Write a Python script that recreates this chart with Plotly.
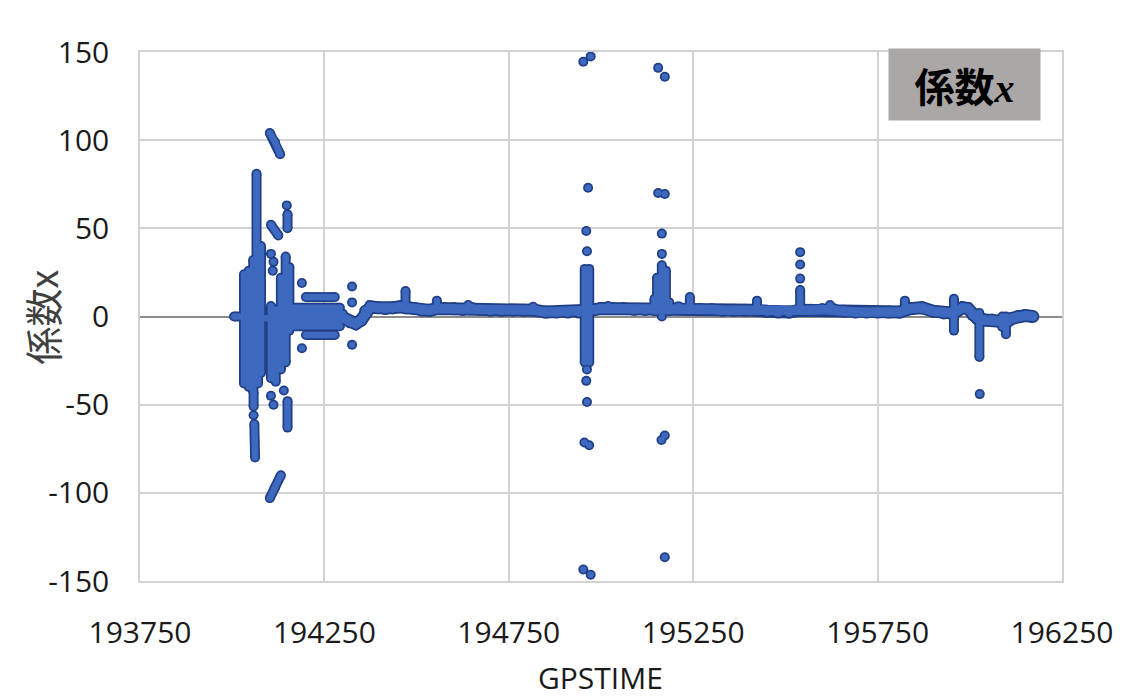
import plotly.graph_objects as go

# ---------------- data (GPSTIME, 係数x) ----------------
# continuous baseline of the series
base_x = [194292, 194305, 194320, 194335, 194350, 194362, 194375, 194395, 194415, 194435,
          194455, 194475, 194495, 194515, 194535, 194555, 194575, 194600, 194625, 194650,
          194675, 194700, 194730, 194760, 194790, 194820, 194850, 194880, 194910, 194940,
          194970, 195000, 195030, 195060, 195090, 195120, 195150, 195180, 195210, 195240,
          195270, 195300, 195330, 195360, 195390, 195420, 195450, 195480, 195510, 195540,
          195570, 195600, 195630, 195660, 195690, 195720, 195750, 195780, 195810, 195840,
          195870, 195900, 195930, 195950, 195965, 195980, 195995, 196008, 196020, 196040,
          196060, 196080, 196100, 196115, 196130, 196150, 196171]
base_y = [0, -1, -3, -4, -2, 3, 5.5, 5, 4.5, 5,
          5.5, 5, 4.5, 3.5, 3.5, 4.5, 4.5, 4.5, 4, 4.5,
          4, 3.5, 3.5, 3.5, 3.5, 3.5, 2.5, 2.5, 2.5, 2.5,
          3.5, 4.5, 4.5, 4.5, 4, 4, 4, 4.5, 5, 5,
          4, 4, 3.5, 3.5, 3.5, 3.5, 3, 2.5, 2.5, 3.5,
          3.5, 4, 4, 3, 2.5, 2.5, 2.5, 2.5, 2.5, 4.5,
          5, 3, 2, 2, 3, 5, 4.5, 1, -1, -2,
          -2, -2.5, -3, -1, 0, 0.5, 0]

# first burst (around 194000-194090); None separates runs of samples
left_x = [194005, 194040, None, 194032, 194032, None, 194045, 194045, None,
          194057, 194057, None, 194066, 194066, None, 194070, 194070, None,
          194078, 194078, None, 194080, 194100, None, 194058, 194058, None,
          194058, None, 194060, 194062]
left_y = [0, 0, None, 24, -38, None, 26, -40, None,
          32, -42, None, 81, 26, None, 30, -38, None,
          40, -32, None, -1, -1, None, -43, -51, None,
          -56, None, -61, -80]

# second burst (around 194100-194160)
mid_x = [194105, 194105, None, 194118, 194118, None, 194132, 194132, None,
         194145, 194145, None, 194155, 194155, None, 194102, 194116, 194130, None,
         194105, 194125, None, 194148, None, 194150, 194150, None, 194105, None,
         194112, None, 194110, None, 194105, None, 194112, None, 194140, None,
         194150, 194150, None, 194102, 194116, 194132]
mid_y = [6, -35, None, 4, -37, None, 22, -30, None,
         34, -26, None, 28, -8, None, 104, 99, 92, None,
         52, 46, None, 63, None, 58, 50, None, 35.5, None,
         31, None, 26, None, -45, None, -50, None, -42, None,
         -48, -63, None, -103, -97, -90]

# settling block (194160-194330)
block_x = [194160, 194292, None, 194160, 194300, None, 194160, 194300, None,
           194160, 194292, None, 194200, 194278, None, 194200, 194278, None,
           194189, None, 194189, None, 194325, None, 194325, None, 194325]
block_y = [5, 5, None, 1.5, 1.5, None, -2, -2, None,
           -5.5, -5.5, None, 11, 11, None, -10.5, -10.5, None,
           19, None, -18, None, 17, None, 8, None, -16]

# spike near 194962
spike1_x = [194956, 194956, None, 194968, 194968, None, 194962, None, 194960, None,
            194965, None, 194952, None, 194972, None, 194962, None, 194960, None,
            194962, None, 194955, None, 194968, None, 194952, None, 194972]
spike1_y = [27, -26, None, 27, -26, None, 37, None, 48.5, None,
            73, None, 144.5, None, 147.5, None, -30, None, -36.5, None,
            -48.5, None, -71.5, None, -73, None, -143.5, None, -146.5]

# spike near 195165
spike2_x = [195152, 195152, None, 195165, 195165, None, 195176, 195176, None,
            195145, 195145, None, 195185, 195185, None, 195165, None, 195165, None,
            195165, None, 195155, None, 195173, None, 195155, None, 195173, None,
            195164, None, 195173, None, 195173]
spike2_y = [3, 22, None, 8, 29, None, 3, 26, None,
            3, 10, None, 3, 8, None, 0, None, 35.5, None,
            47, None, 70, None, 69.5, None, 141, None, 136, None,
            -70, None, -67.5, None, -136.5]

# small excursions along the rest of the record
bump_x = [194470, 194470, None, 194555, 194555, None, 194640, 194640, None,
          194816, 194816, None, 195019, 195019, None, 195060, 195060, None,
          195241, 195241, None, 195423, 195423, None, 195540, 195540, None,
          195540, None, 195540, None, 195540, None, 195621, 195621, None,
          195824, 195824, None, 195957, 195957, None, 196026, 196026, None,
          196027, None, 196088, 196088, None, 196098, 196098]
bump_y = [4, 14.5, None, 4, 9, None, 4, 6.5, None,
          3, 5.5, None, 4, 6, None, 4, 5, None,
          5, 11, None, 3, 9, None, 3, 15, None,
          21.5, None, 29.5, None, 36.5, None, 4, 6.5, None,
          3, 9, None, 10, -8, None, 2, -23, None,
          -44, None, 0, -6, None, 0, -10]

x_ticks = [193750, 194250, 194750, 195250, 195750, 196250]
x_labels = ["193750", "194250", "194750", "195250", "195750", "196250"]
y_ticks = [-150, -100, -50, 0, 50, 100, 150]
y_labels = ["-150", "-100", "-50", "0", "50", "100", "150"]

# ---------------- figure ----------------
burst_x = left_x + [None] + mid_x + [None] + block_x + [None] + spike1_x + [None] + spike2_x + [None] + bump_x
burst_y = left_y + [None] + mid_y + [None] + block_y + [None] + spike1_y + [None] + spike2_y + [None] + bump_y

EDGE = "#213f87"
FILL = "#3d69bf"

fig = go.Figure()
# dark outlines first
fig.add_trace(go.Scatter(x=base_x, y=base_y, mode="lines+markers",
                         line=dict(color=EDGE, width=13), marker=dict(color=EDGE, size=13),
                         hoverinfo="skip"))
fig.add_trace(go.Scatter(x=burst_x, y=burst_y, mode="lines+markers",
                         line=dict(color=EDGE, width=10), marker=dict(color=EDGE, size=10),
                         hoverinfo="skip"))
# lighter fill on top
fig.add_trace(go.Scatter(x=base_x, y=base_y, mode="lines+markers",
                         line=dict(color=FILL, width=9.5), marker=dict(color=FILL, size=9.5),
                         hoverinfo="skip"))
fig.add_trace(go.Scatter(x=burst_x, y=burst_y, mode="lines+markers",
                         line=dict(color=FILL, width=6.5), marker=dict(color=FILL, size=6.5),
                         hoverinfo="skip"))

GRID = "#d3d3d3"
TICKFONT = dict(family="Open Sans", size=30, color="#1a1a1a")

# the page body adds an 8px margin, so the figure is sized to fill the rest
fig.update_layout(
    width=1119, height=692,
    margin=dict(l=132, r=65, t=44, b=119),
    plot_bgcolor="white", paper_bgcolor="white",
    showlegend=False,
    xaxis=dict(range=[193750, 196250], tickvals=x_ticks, ticktext=x_labels,
               showgrid=True, gridcolor=GRID, gridwidth=1.5, zeroline=False,
               showline=True, linecolor=GRID, linewidth=1.5, mirror=True,
               ticks="outside", ticklen=24, tickcolor="rgba(0,0,0,0)",
               tickfont=TICKFONT),
    yaxis=dict(range=[-150, 150], tickvals=y_ticks, ticktext=y_labels,
               showgrid=True, gridcolor=GRID, gridwidth=1.5,
               zeroline=True, zerolinecolor="#8c8c8c", zerolinewidth=1.5,
               showline=True, linecolor=GRID, linewidth=1.5, mirror=True,
               ticks="outside", ticklen=23, tickcolor="rgba(0,0,0,0)",
               tickfont=TICKFONT),
    annotations=[
        dict(text="係数x", xref="paper", yref="paper", x=-0.1063, y=0.5,
             textangle=-90, showarrow=False, xanchor="center", yanchor="middle",
             font=dict(family="Noto Sans CJK JP", size=38, color="#404040")),
        dict(text="GPSTIME", xref="paper", yref="paper", x=0.499, y=-0.183,
             showarrow=False, xanchor="center", yanchor="middle",
             font=dict(family="Open Sans", size=30, color="#1a1a1a")),
        dict(text="<b>係数</b><b><i><span style=\"font-family:'Liberation Serif'\">x</span></i></b>",
             xref="paper", yref="paper", x=0.8943, y=0.9386,
             showarrow=False, xanchor="center", yanchor="middle",
             width=151, height=71, borderpad=0, bgcolor="#aba7a7",
             font=dict(family="Noto Sans CJK JP", size=40, color="#000000")),
    ],
    shapes=[dict(type="rect", xref="paper", yref="paper",
                 x0=-0.1443, x1=1.0629, y0=-0.3, y1=1.087,
                 line=dict(color="#d9d9d9", width=1.5), fillcolor="rgba(0,0,0,0)",
                 layer="below")],
)

fig.write_html("out.html")
